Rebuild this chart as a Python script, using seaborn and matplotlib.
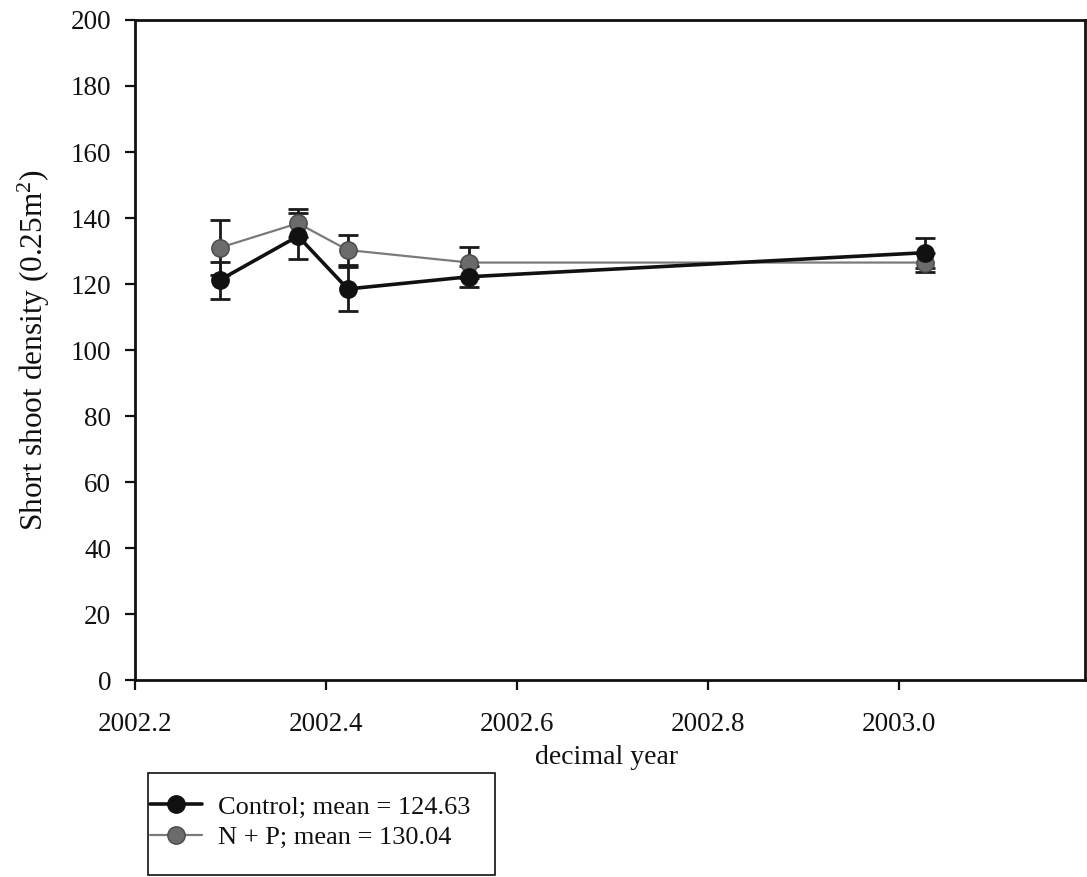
import matplotlib
matplotlib.use("Agg")
import matplotlib.pyplot as plt
import seaborn as sns
import pandas as pd
from matplotlib.lines import Line2D
from matplotlib.patches import Rectangle

# Sampling dates (decimal year)
dates = [2002.289, 2002.371, 2002.423, 2002.550, 2003.028]

# Control plots: mean density and standard error
control_mean = [121.2, 134.5, 118.5, 122.2, 129.5]
control_se = [5.6, 6.9, 6.6, 3.2, 4.5]

# N + P fertilised plots
np_mean = [131.0, 138.4, 130.3, 126.5, 126.5]
np_se = [8.3, 4.3, 4.5, 4.8, 3.0]

series_labels = ["Control; mean = 124.63", "N + P; mean = 130.04"]
x_ticks = [2002.2, 2002.4, 2002.6, 2002.8, 2003.0]
x_tick_labels = ["2002.2", "2002.4", "2002.6", "2002.8", "2003.0"]
y_ticks = [0, 20, 40, 60, 80, 100, 120, 140, 160, 180, 200]

sns.set_theme(style="white")
plt.rcParams["font.family"] = ["Liberation Serif", "DejaVu Serif"]
plt.rcParams["mathtext.fontset"] = "custom"
plt.rcParams["mathtext.rm"] = "Liberation Serif"
plt.rcParams["mathtext.it"] = "Liberation Serif:italic"
plt.rcParams["text.color"] = "#111111"

df = pd.DataFrame({
    "year": dates * 2,
    "density": control_mean + np_mean,
    "se": control_se + np_se,
    "treatment": ["Control"] * len(dates) + ["N + P"] * len(dates),
})

fig = plt.figure(figsize=(10.87, 8.77), dpi=100)
ax = fig.add_axes([0.124, 0.2246, 0.874, 0.7526])

styles = {
    "Control": dict(line="#111111", face="#111111", edge="#111111", lw=2.6, zorder=4),
    "N + P": dict(line="#7a7a7a", face="#6b6b6b", edge="#484848", lw=1.6, zorder=3),
}

for name, st in styles.items():
    sub = df[df["treatment"] == name]
    ax.errorbar(sub["year"], sub["density"], yerr=sub["se"], fmt="none",
                ecolor="#1a1a1a", elinewidth=2.0, capsize=7.5, capthick=2.0,
                zorder=st["zorder"] - 1)
    sns.lineplot(data=sub, x="year", y="density", ax=ax, color=st["line"],
                 linewidth=st["lw"], marker="o", markersize=12.5,
                 markerfacecolor=st["face"], markeredgecolor=st["edge"],
                 markeredgewidth=1.0, zorder=st["zorder"], legend=False)

ax.set_xlim(2002.2, 2003.195)
ax.set_ylim(0, 200)
ax.set_xticks(x_ticks)
ax.set_xticklabels(x_tick_labels)
ax.set_yticks(y_ticks)

for side in ["left", "bottom", "top", "right"]:
    ax.spines[side].set_visible(True)
    ax.spines[side].set_color("#111111")
    ax.spines[side].set_linewidth(2.0)

ax.tick_params(axis="both", which="major", direction="out", length=7,
               width=1.6, color="#111111", labelsize=19.5, labelcolor="#111111",
               bottom=True, left=True, top=False, right=False)
ax.tick_params(axis="y", pad=10)
ax.tick_params(axis="x", pad=16)

ax.set_xlabel("decimal year", fontsize=20, color="#111111")
ax.set_ylabel("Short shoot density (0.25m$^2$)", fontsize=22.5,
              color="#111111")
ax.xaxis.set_label_coords(0.497, -0.098)
ax.yaxis.set_label_coords(-0.087, 0.5)

# Legend box below the plot area
fig.add_artist(Rectangle((148 / 1087, 2 / 877), 347 / 1087, 102 / 877,
                         transform=fig.transFigure, fill=False,
                         edgecolor="#111111", linewidth=1.2))

handles = [
    Line2D([], [], color=styles["Control"]["line"], lw=2.6, marker="o",
           markersize=12.5, markerfacecolor=styles["Control"]["face"],
           markeredgecolor=styles["Control"]["edge"]),
    Line2D([], [], color=styles["N + P"]["line"], lw=1.6, marker="o",
           markersize=12.5, markerfacecolor=styles["N + P"]["face"],
           markeredgecolor=styles["N + P"]["edge"]),
]
leg = fig.legend(handles, series_labels, loc="upper left",
                 bbox_to_anchor=(150 / 1087, (877 - 795) / 877), fontsize=19,
                 frameon=False, borderpad=0, handlelength=1.97,
                 handletextpad=0.6, labelspacing=0.26, borderaxespad=0)
for t in leg.get_texts():
    t.set_color("#111111")

fig.savefig("out.png", dpi=100, facecolor="white")
